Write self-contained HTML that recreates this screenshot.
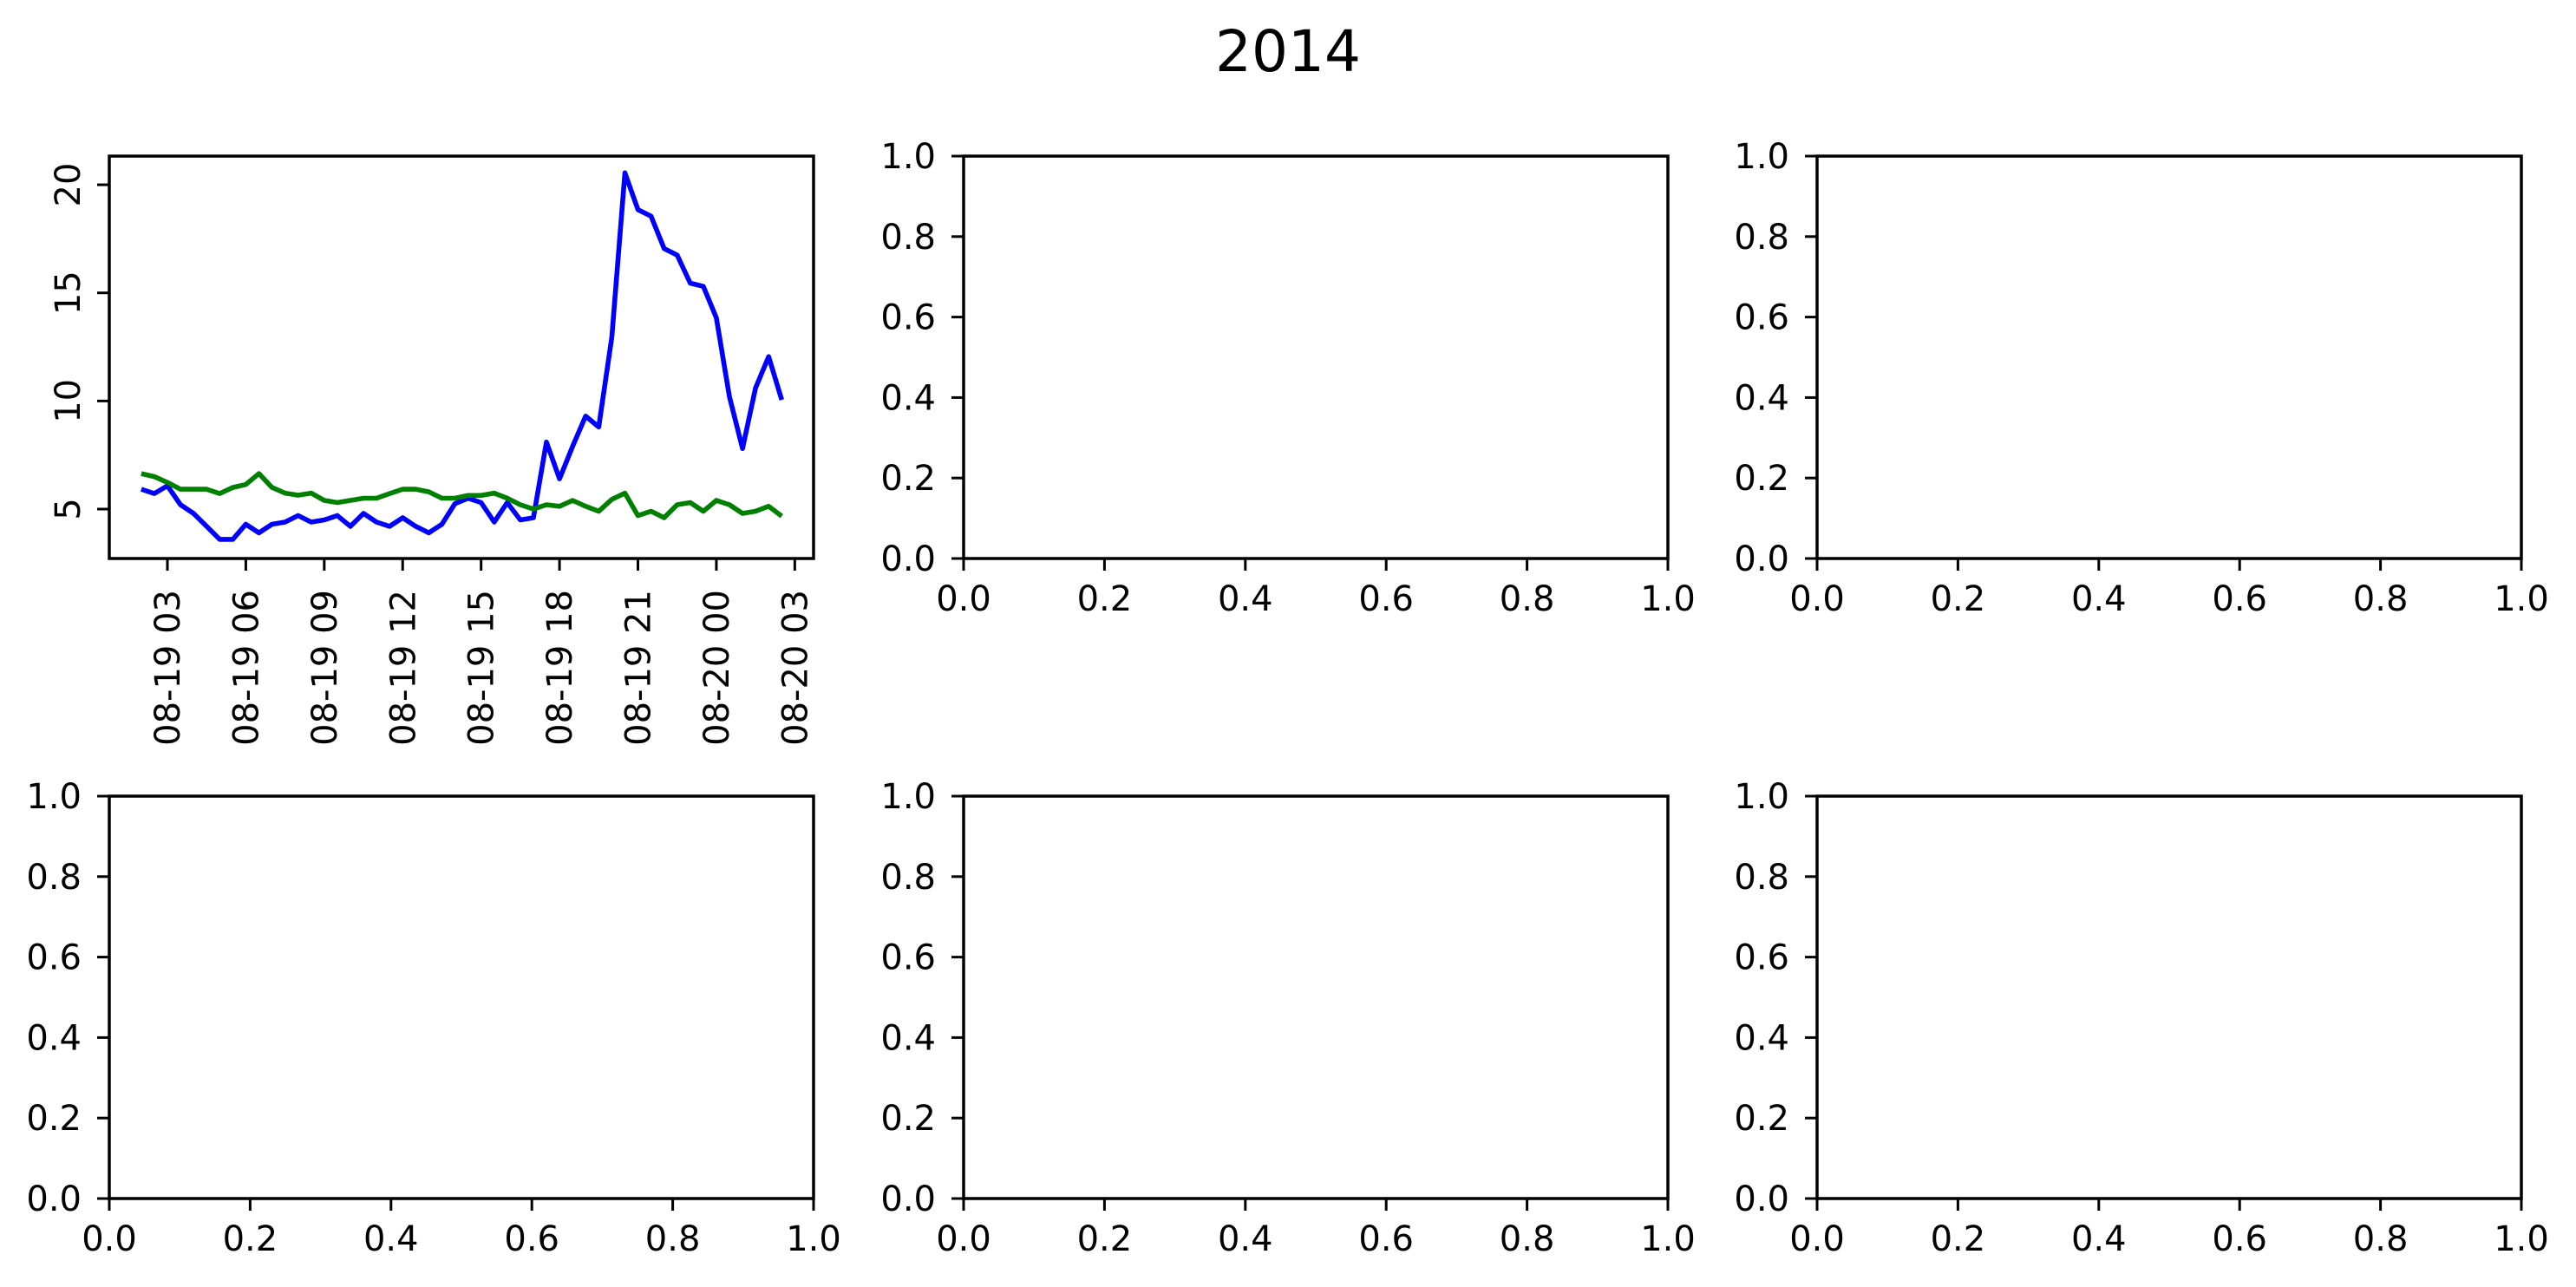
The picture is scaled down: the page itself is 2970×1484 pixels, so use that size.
<!DOCTYPE html>
<html><head><meta charset="utf-8"><style>
html,body{margin:0;padding:0;background:#fff;}
svg{display:block;}
text{font-family:"DejaVu Sans","Liberation Sans",sans-serif;fill:#000;}
</style></head><body>
<svg id="fig" width="2970" height="1484" viewBox="0 0 2970 1484" xmlns="http://www.w3.org/2000/svg">
<rect x="0" y="0" width="2970" height="1484" fill="#fff"/>
<text x="1485" y="82" font-size="66" text-anchor="middle">2014</text>
</svg>
<script>
// Series data: half-hourly from 08-19 02:00 to 08-20 02:30
const startHour = 2; // hours after 08-19 00:00
const stepHours = 0.5;
const blueValues = [5.92,5.72,6.08,5.2,4.8,4.2,3.6,3.6,4.3,3.9,4.3,4.4,4.7,4.4,4.5,4.7,4.2,4.8,4.4,4.2,4.6,4.2,3.9,4.3,5.25,5.5,5.3,4.4,5.3,4.5,4.6,8.1,6.4,7.9,9.3,8.8,12.95,20.55,18.85,18.55,17.05,16.75,15.45,15.3,13.85,10.2,7.8,10.6,12.05,10.05];
const greenValues = [6.64,6.5,6.23,5.92,5.92,5.92,5.72,6.0,6.14,6.64,6.0,5.74,5.64,5.74,5.4,5.3,5.4,5.5,5.5,5.72,5.92,5.92,5.8,5.5,5.5,5.63,5.63,5.74,5.5,5.2,5.0,5.2,5.13,5.4,5.13,4.9,5.45,5.74,4.7,4.9,4.6,5.2,5.3,4.9,5.4,5.2,4.8,4.9,5.13,4.67];
const yTicks1 = [5,10,15,20];
const xTickHours = [3,6,9,12,15,18,21,24,27];
const xTickLabels = ["08-19 03","08-19 06","08-19 09","08-19 12","08-19 15","08-19 18","08-19 21","08-20 00","08-20 03"];
const unitTicks = [0,0.2,0.4,0.6,0.8,1.0];
const unitTickLabels = ["0.0","0.2","0.4","0.6","0.8","1.0"];

const NS="http://www.w3.org/2000/svg";
const svg=document.getElementById('fig');
function mk(tag,attrs,parent){const e=document.createElementNS(NS,tag);for(const k in attrs)e.setAttribute(k,attrs[k]);(parent||svg).appendChild(e);return e;}

const cols=[126,1111,2095], rows=[180,918], W=812, H=464;
const FS=40;

const x1=h=>193+(h-3)*30.14;
const y1=v=>587-(v-5)*24.93;

function frame(L,T,name){
  const g=mk('g',{});
  
  
  const r=mk('rect',{x:L,y:T,width:W,height:H,fill:'none',stroke:'#000','stroke-width':3.5},g);
  
  
  return g;
}

(function(){
  const L=cols[0],T=rows[0];
  const g=frame(L,T,'subplot-1');
  yTicks1.forEach(v=>{
    const y=y1(v);
    const t=mk('line',{x1:L-14,x2:L,y1:y,y2:y,stroke:'#000','stroke-width':3},g);
    
    
    const lb=mk('text',{x:0,y:0,'font-size':FS,'text-anchor':'middle',transform:`translate(${L-34},${y}) rotate(-90)`},g);
    
    
    lb.textContent=String(v);
  });
  xTickHours.forEach((h,i)=>{
    const x=x1(h);
    const t=mk('line',{x1:x,x2:x,y1:T+H,y2:T+H+14,stroke:'#000','stroke-width':3},g);
    
    
    const lb=mk('text',{x:0,y:0,'font-size':FS,'text-anchor':'end',transform:`translate(${x+14},${T+H+36}) rotate(-90)`},g);
    
    
    lb.textContent=xTickLabels[i];
  });
  function series(vals,color,name){
    const pts=vals.map((v,i)=>`${x1(startHour+i*stepHours).toFixed(1)},${y1(v).toFixed(1)}`).join(' ');
    const p=mk('polyline',{points:pts,fill:'none',stroke:color,'stroke-width':5.6,'stroke-linejoin':'round'},g);
    
    
  }
  series(blueValues,'#0000ff','blue-series-line');
  series(greenValues,'#008000','green-series-line');
})();

[[1,0],[2,0],[0,1],[1,1],[2,1]].forEach(([c,r],k)=>{
  const L=cols[c],T=rows[r];
  const g=frame(L,T,'subplot-'+(k+2));
  unitTicks.forEach((v,i)=>{
    const y=T+H-v*H, x=L+v*W;
    const ty=mk('line',{x1:L-14,x2:L,y1:y,y2:y,stroke:'#000','stroke-width':3},g);
    
    
    const ly=mk('text',{x:L-32,y:y+14,'font-size':FS,'text-anchor':'end'},g);
    
    
    ly.textContent=unitTickLabels[i];
    const tx=mk('line',{x1:x,x2:x,y1:T+H,y2:T+H+14,stroke:'#000','stroke-width':3},g);
    
    
    const lx=mk('text',{x:x,y:T+H+60,'font-size':FS,'text-anchor':'middle'},g);
    
    
    lx.textContent=unitTickLabels[i];
  });
});
</script>
</body></html>
